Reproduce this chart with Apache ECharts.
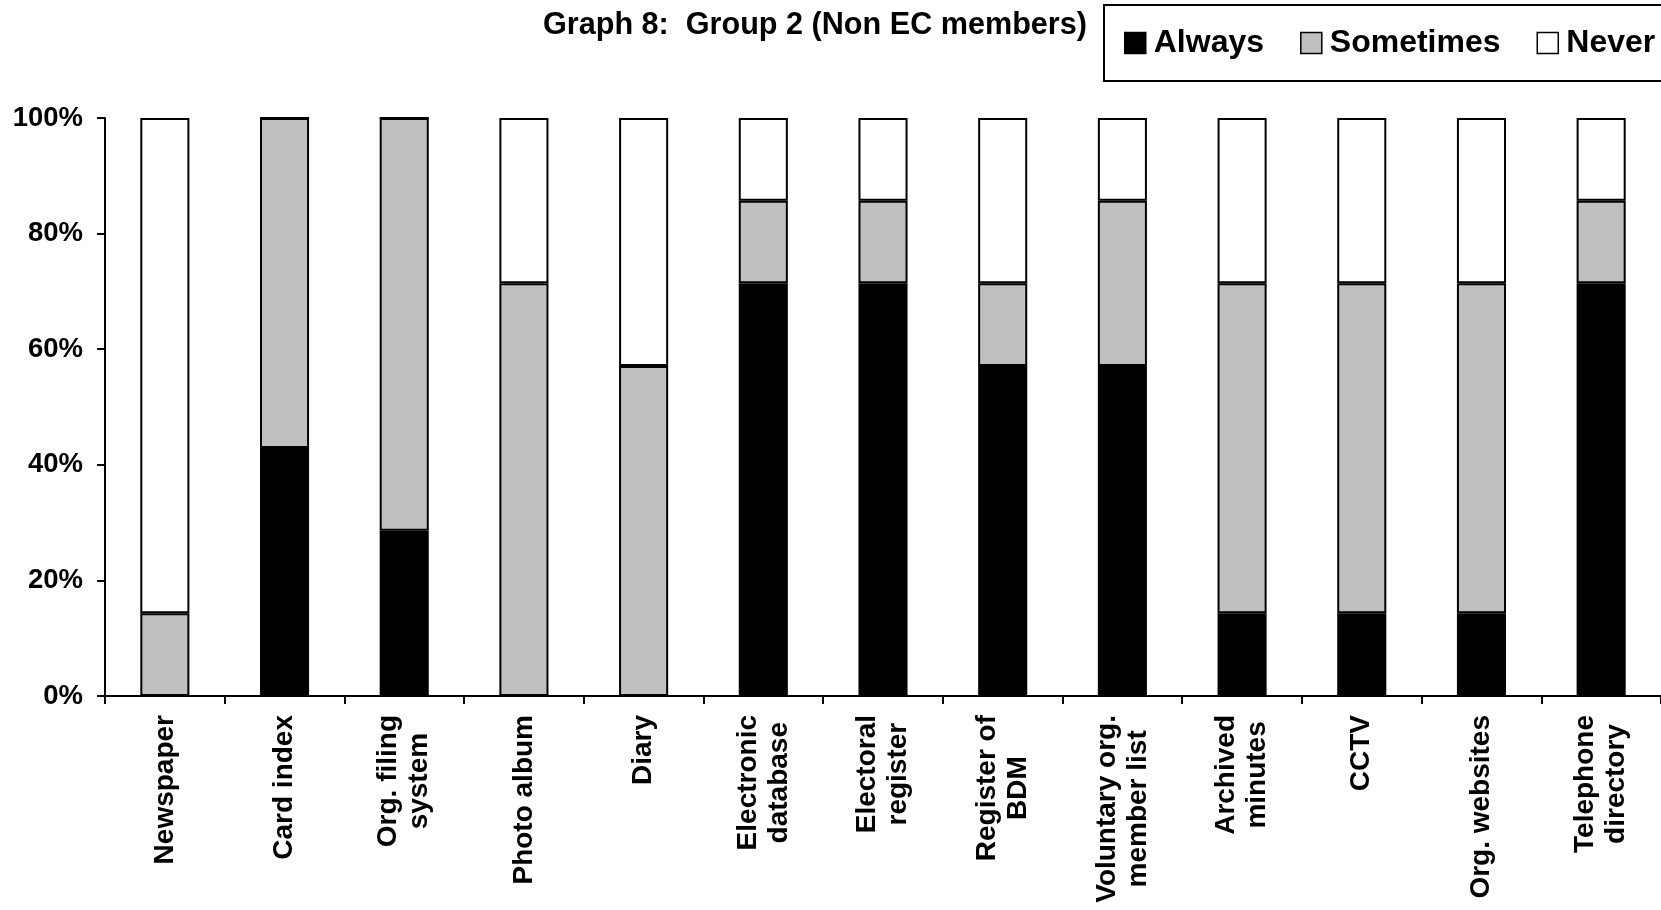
<!DOCTYPE html>
<html>
<head>
<meta charset="utf-8">
<script src="https://cdn.jsdelivr.net/npm/echarts@6/dist/echarts.min.js"></script>
<style>
  html, body { margin: 0; padding: 0; background: #fff; }
  #chart { width: 1661px; height: 910px; }
</style>
</head>
<body>
<div id="chart"></div>
<script>
// Record sources used by Group 2 respondents (percent of respondents)
const categories = [
  'Newspaper', 'Card index', 'Org. filing\nsystem', 'Photo album', 'Diary',
  'Electronic\ndatabase', 'Electoral\nregister', 'Register of\nBDM',
  'Voluntary org.\nmember list', 'Archived\nminutes', 'CCTV', 'Org. websites',
  'Telephone\ndirectory'
];
const always    = [0, 42.9, 28.6, 0, 0, 71.4, 71.4, 57.1, 57.1, 14.3, 14.3, 14.3, 71.4];
const sometimes = [14.3, 57.1, 71.4, 71.4, 57.1, 14.3, 14.3, 14.3, 28.6, 57.1, 57.1, 57.1, 14.3];
const never     = [85.7, 0, 0, 28.6, 42.9, 14.3, 14.3, 28.6, 14.3, 28.6, 28.6, 28.6, 14.3];
const yTicks = [0, 20, 40, 60, 80, 100];

const FONT = '"Liberation Sans", Arial, sans-serif';

const chart = echarts.init(document.getElementById('chart'), null, { renderer: 'canvas' });

function barSeries(name, data, color) {
  return {
    name: name,
    type: 'bar',
    stack: 'total',
    data: data,
    barWidth: '41%',
    itemStyle: { color: color, borderColor: '#000', borderWidth: 2 },
    emphasis: { disabled: true }
  };
}

chart.setOption({
  animation: false,
  backgroundColor: '#fff',
  title: {
    text: 'Graph 8:  Group 2 (Non EC members)',
    left: 538,
    top: 5,
    textStyle: { fontFamily: FONT, fontWeight: 'bold', fontSize: 30.6, color: '#000' }
  },
  legend: {
    left: 1104,
    top: 5,
    width: 600,
    orient: 'horizontal',
    itemWidth: 21,
    itemHeight: 21,
    itemGap: 36,
    padding: [22, 40, 22, 20],
    borderColor: '#000',
    borderWidth: 2,
    icon: 'rect',
    itemStyle: { borderColor: '#000', borderWidth: 1.5 },
    textStyle: { fontFamily: FONT, fontWeight: 'bold', fontSize: 32, color: '#000', padding: [0, 0, 0, 3] },
    data: ['Always', 'Sometimes', 'Never']
  },
  grid: { left: 105, top: 118, width: 1564, height: 578 },
  xAxis: {
    type: 'category',
    data: categories,
    axisLine: { lineStyle: { color: '#000', width: 2 } },
    axisTick: { show: true, length: 8, lineStyle: { color: '#000', width: 2 } },
    axisLabel: {
      rotate: 90,
      interval: 0,
      margin: 19,
      fontFamily: FONT,
      fontWeight: 'bold',
      fontSize: 28,
      lineHeight: 31,
      color: '#000',
      formatter: function (v) {
        return v.split('\n').map(function (s) { return '{c|' + s + '}'; }).join('\n');
      },
      rich: {
        c: { align: 'center', fontFamily: FONT, fontWeight: 'bold', fontSize: 28, lineHeight: 31, color: '#000' }
      }
    }
  },
  yAxis: {
    type: 'value',
    min: yTicks[0],
    max: yTicks[yTicks.length - 1],
    interval: 20,
    splitLine: { show: false },
    axisLine: { show: true, lineStyle: { color: '#000', width: 2 } },
    axisTick: { show: true, length: 8, lineStyle: { color: '#000', width: 2 } },
    axisLabel: {
      margin: 22,
      fontFamily: FONT,
      fontWeight: 'bold',
      fontSize: 27.5,
      color: '#000',
      formatter: '{value}%'
    }
  },
  series: [
    barSeries('Always', always, '#000000'),
    barSeries('Sometimes', sometimes, '#c0c0c0'),
    barSeries('Never', never, '#ffffff')
  ]
});
</script>
</body>
</html>
